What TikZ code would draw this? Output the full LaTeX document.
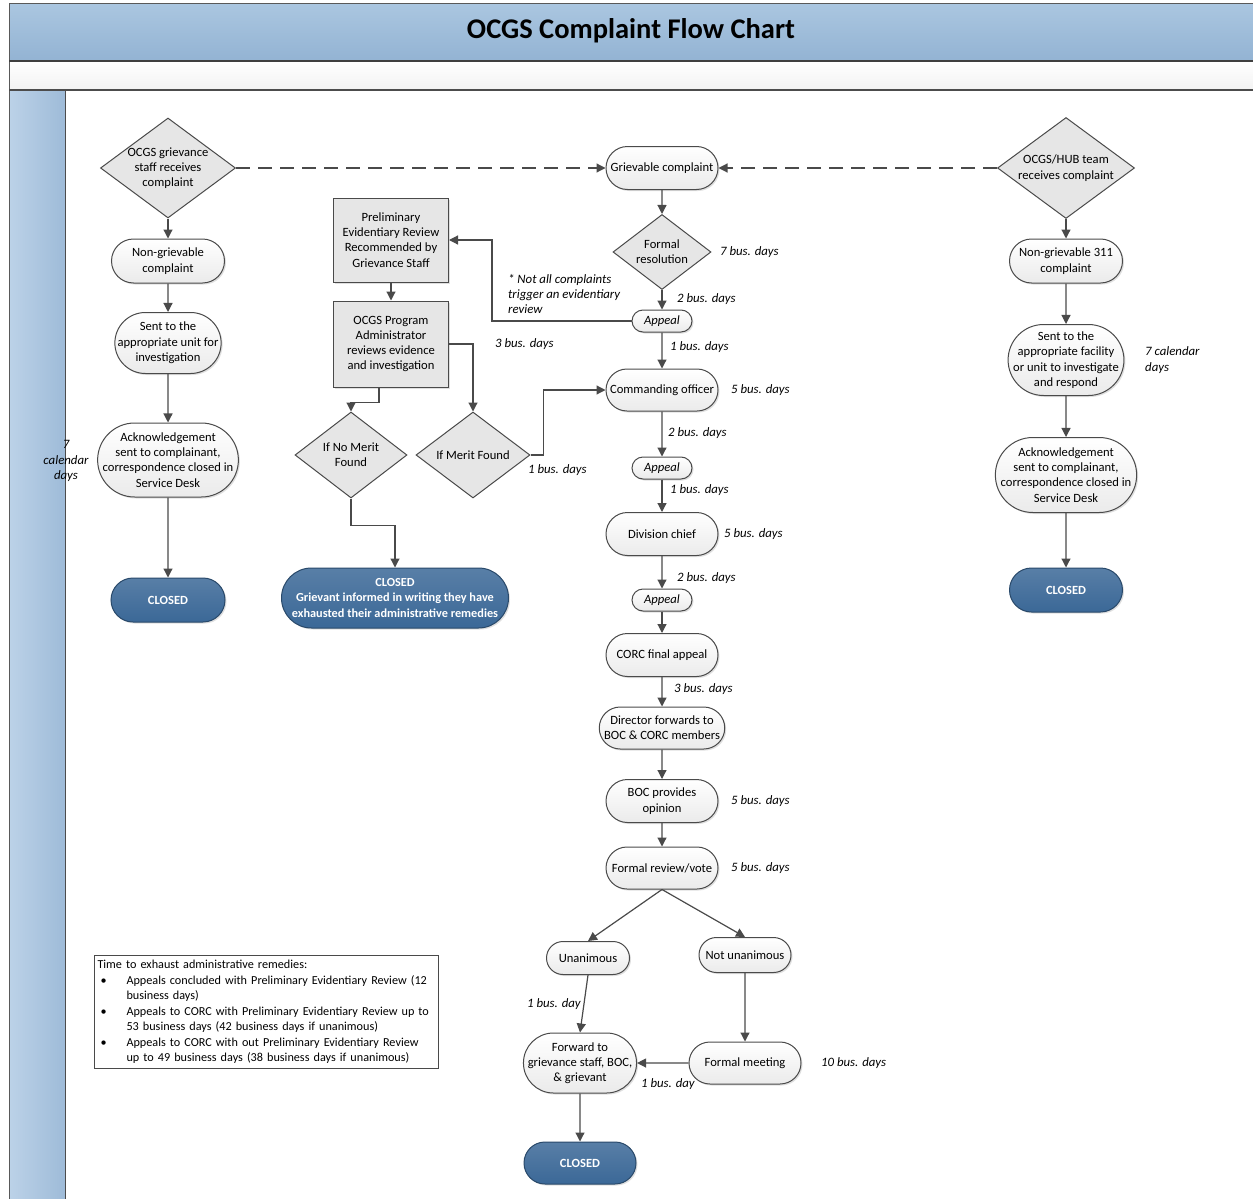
\documentclass[tikz,border=0pt]{standalone}
\usepackage{fontspec}
\setmainfont{Carlito}
\usepackage{enumitem}
\usetikzlibrary{shapes.geometric,shapes.misc,arrows.meta,shadows,positioning}

\definecolor{titletop}{HTML}{AAC6E0}
\definecolor{titlebot}{HTML}{93B3D3}
\definecolor{lanel}{HTML}{BCD2E8}
\definecolor{laner}{HTML}{9EBBD8}
\definecolor{closedblue}{HTML}{3B6897}
\definecolor{boxgray}{HTML}{E6E6E6}
\definecolor{linegray}{HTML}{4A4A4A}

\tikzset{
  txt/.style={font=\fontsize{12.6}{15.3}\selectfont, align=center, text=black},
  proc/.style={txt, rounded rectangle, draw=linegray, line width=1pt,
    top color=white, bottom color=gray!16, inner sep=1pt,
    drop shadow={opacity=0.25, shadow xshift=1.5pt, shadow yshift=-1.5pt}},
  tight/.style={minimum width=0pt, inner xsep=#1},
  appeal/.style={proc, font=\fontsize{12.6}{15}\selectfont\itshape, minimum width=62, minimum height=22},
  closed/.style={proc, draw=closedblue!70!black, top color=closedblue!85!white, bottom color=closedblue,
    text=white, font=\fontsize{12.5}{15}\selectfont\bfseries},
  dec/.style={diamond, draw=linegray, line width=1pt, fill=boxgray, inner sep=0pt},
  dectext/.style={txt, inner sep=0pt},
  box/.style={txt, rectangle, draw=linegray, line width=1pt, fill=boxgray, inner sep=1pt,
    drop shadow={opacity=0.25, shadow xshift=1.5pt, shadow yshift=-1.5pt}},
  days/.style={font=\fontsize{12.8}{15.5}\selectfont\itshape, text=black, inner sep=1pt},
  flow/.style={-{Triangle[length=9pt,width=9pt]}, draw=linegray, line width=1.2pt},
  dashflow/.style={flow, dash pattern=on 14pt off 8pt},
  legend/.style={draw=linegray, line width=1pt, fill=white, inner xsep=3pt, inner ysep=5pt, text width=338,
    font=\fontsize{12.2}{15.5}\selectfont, align=left},
}

\begin{document}
\begin{tikzpicture}[x=1pt, y=-1pt]
\useasboundingbox (0,0) rectangle (1253,1199);
\fill[white] (0,0) rectangle (1253,1199);
\fill[top color=titletop, bottom color=titlebot] (9,4) rectangle (1253,61);
\fill[top color=white, bottom color=gray!10] (9,61) rectangle (1253,90);
\fill[left color=lanel, right color=laner] (9,90) rectangle (65,1199);
\draw[gray!70!black, line width=1pt] (9,1199) -- (9,4) -- (1253,4);
\draw[gray!50!black, line width=1.5pt] (9,61) -- (1253,61);
\draw[gray!60!black, line width=1.2pt] (9,90) -- (1253,90);
\draw[gray!60!black, line width=1pt] (65,90) -- (65,1199);
\node[font=\fontsize{28.5}{32}\selectfont\bfseries] (title) at (631,31) {OCGS Complaint Flow Chart};

% left column
\node[dec, minimum width=135, minimum height=100,
  label={[dectext]center:{OCGS grievance\\staff receives\\complaint}}] (recv) at (168,168) {};
\node[proc, minimum width=115, minimum height=44] (nongriev) at (168,261) {Non-grievable\\complaint};
\node[proc, tight=-5.5pt, minimum height=61] (sentunit) at (168,343) {Sent to the\\appropriate unit for\\investigation};
\node[proc, tight=-7pt, minimum height=74] (ackleft) at (168,460) {Acknowledgement\\sent to complainant,\\correspondence closed in\\Service Desk};
\node[closed, minimum width=116, minimum height=44] (closedleft) at (168,600) {CLOSED};
\node[days, align=center] (calleft) at (66,461) {7\\calendar\\days};

% evidentiary review
\node[box, minimum width=115, minimum height=84] (prelim) at (391,240) {Preliminary\\Evidentiary Review\\Recommended by\\Grievance Staff};
\node[box, minimum width=115, minimum height=86] (admin) at (391,344) {OCGS Program\\Administrator\\reviews evidence\\and investigation};
\node[dec, minimum width=112, minimum height=86,
  label={[dectext]center:{If No Merit\\Found}}] (nomerit) at (351,455) {};
\node[dec, minimum width=114, minimum height=86,
  label={[dectext]center:{If Merit Found}}] (merit) at (473,455) {};
\node[closed, minimum width=229, minimum height=60, font=\fontsize{12.3}{15.5}\selectfont\bfseries] (closedgr) at (395,598)
  {CLOSED\\Grievant informed in writing they have\\exhausted their administrative remedies};
\node[days, align=left, anchor=west] (note) at (507,294) {* Not all complaints\\trigger an evidentiary\\review};

% grievable complaint
\node[proc, minimum width=114, minimum height=43] (griev) at (662,168) {Grievable complaint};
\node[dec, minimum width=98, minimum height=75,
  label={[dectext]center:{Formal\\resolution}}] (formal) at (662,252) {};
\node[appeal] (appeal1) at (662,321) {Appeal};
\node[proc, minimum width=114, minimum height=42] (comm) at (662,390) {Commanding officer};
\node[appeal] (appeal2) at (662,468) {Appeal};
\node[proc, minimum width=114, minimum height=43] (divchief) at (662,534) {Division chief};
\node[appeal] (appeal3) at (662,600) {Appeal};
\node[proc, minimum width=114, minimum height=43] (corc) at (662,655) {CORC final appeal};
\node[proc, minimum width=124, minimum height=42] (director) at (662,728) {Director forwards to\\BOC \& CORC members};
\node[proc, minimum width=114, minimum height=43] (bocop) at (662,801) {BOC provides\\opinion};
\node[proc, minimum width=114, minimum height=42] (review) at (662,868) {Formal review/vote};
\node[proc, minimum width=85, minimum height=33] (unan) at (588,958) {Unanimous};
\node[proc, minimum width=94, minimum height=35] (notunan) at (745,955) {Not unanimous};
\node[proc, tight=-4pt, minimum height=60] (forward) at (580,1063) {Forward to\\grievance staff, BOC,\\\& grievant};
\node[proc, minimum width=114, minimum height=42] (meeting) at (745,1063) {Formal meeting};
\node[closed, minimum width=114, minimum height=42] (closedc) at (580,1163) {CLOSED};

\node[days, anchor=west] (t1) at (719,252) {7 bus. days};
\node[days, anchor=west] (t2) at (676,299) {2 bus. days};
\node[days, anchor=west] (t3) at (669,347) {1 bus. days};
\node[days, anchor=west] (t4) at (494,344) {3 bus. days};
\node[days, anchor=west] (t5) at (730,390) {5 bus. days};
\node[days, anchor=west] (t6) at (667,433) {2 bus. days};
\node[days, anchor=west] (t7) at (527,470) {1 bus. days};
\node[days, anchor=west] (t8) at (669,490) {1 bus. days};
\node[days, anchor=west] (t9) at (723,534) {5 bus. days};
\node[days, anchor=west] (t10) at (676,578) {2 bus. days};
\node[days, anchor=west] (t11) at (673,689) {3 bus. days};
\node[days, anchor=west] (t12) at (730,801) {5 bus. days};
\node[days, anchor=west] (t13) at (730,868) {5 bus. days};
\node[days, anchor=west] (t14) at (526,1004) {1 bus. day};
\node[days, anchor=west] (t15) at (640,1084) {1 bus. day};
\node[days, anchor=west] (t16) at (820,1063) {10 bus. days};

% right column
\node[dec, minimum width=137, minimum height=101,
  label={[dectext]center:{OCGS/HUB team\\receives complaint}}] (hub) at (1066,168) {};
\node[proc, minimum width=115, minimum height=44] (non311) at (1066,261) {Non-grievable 311\\complaint};
\node[proc, tight=-9pt, minimum height=71] (sentfac) at (1066,360) {Sent to the\\appropriate facility\\or unit to investigate\\and respond};
\node[proc, tight=-6.5pt, minimum height=75] (ackright) at (1066,475) {Acknowledgement\\sent to complainant,\\correspondence closed in\\Service Desk};
\node[closed, minimum width=115, minimum height=44] (closedright) at (1066,590) {CLOSED};
\node[days, align=left, anchor=west] (calright) at (1144,360) {7 calendar\\days};

% legend
\node[legend, anchor=north west] (legend) at (94,955) {Time to exhaust administrative remedies:
  \begin{itemize}[nosep, leftmargin=29pt, labelwidth=20pt, labelsep=6pt, align=left]
  \item Appeals concluded with Preliminary Evidentiary Review (12\newline business days)
  \item Appeals to CORC with Preliminary Evidentiary Review up to\newline 53 business days (42 business days if unanimous)
  \item Appeals to CORC with out Preliminary Evidentiary Review\newline up to 49 business days (38 business days if unanimous)
  \end{itemize}};

% connectors
\draw[dashflow] (recv.east) -- (griev.west);
\draw[dashflow] (hub.west) -- (griev.east);
\draw[flow] (recv) -- (nongriev);
\draw[flow] (nongriev) -- (sentunit);
\draw[flow] (sentunit) -- (ackleft);
\draw[flow] (ackleft) -- (closedleft);
\draw[flow] (hub) -- (non311);
\draw[flow] (non311) -- (sentfac);
\draw[flow] (sentfac) -- (ackright);
\draw[flow] (ackright) -- (closedright);
\draw[flow] (griev) -- (formal);
\draw[flow] (formal) -- (appeal1);
\draw[flow] (appeal1) -- (comm);
\draw[flow] (comm) -- (appeal2);
\draw[flow] (appeal2) -- (divchief);
\draw[flow] (divchief) -- (appeal3);
\draw[flow] (appeal3) -- (corc);
\draw[flow] (corc) -- (director);
\draw[flow] (director) -- (bocop);
\draw[flow] (bocop) -- (review);
\draw[flow] (review.south) -- (unan.north);
\draw[flow] (review.south) -- (notunan.north);
\draw[flow] (unan.south) -- (forward.north);
\draw[flow] (notunan) -- (meeting);
\draw[flow] (meeting) -- (forward);
\draw[flow] (forward) -- (closedc);
\draw[flow] (appeal1.west) -| ([xshift=43pt]prelim.east) -- (prelim.east);
\draw[flow] (prelim) -- (admin);
\draw[flow] ([xshift=-12pt]admin.south) -- ++(0,15) -| (nomerit.north);
\draw[flow] (admin.east) -| (merit.north);
\draw[flow] (nomerit.south) -- ++(0,27) -| (closedgr.north);
\draw[flow] (merit.east) -- ++(13,0) |- (comm.west);
\end{tikzpicture}
\end{document}
